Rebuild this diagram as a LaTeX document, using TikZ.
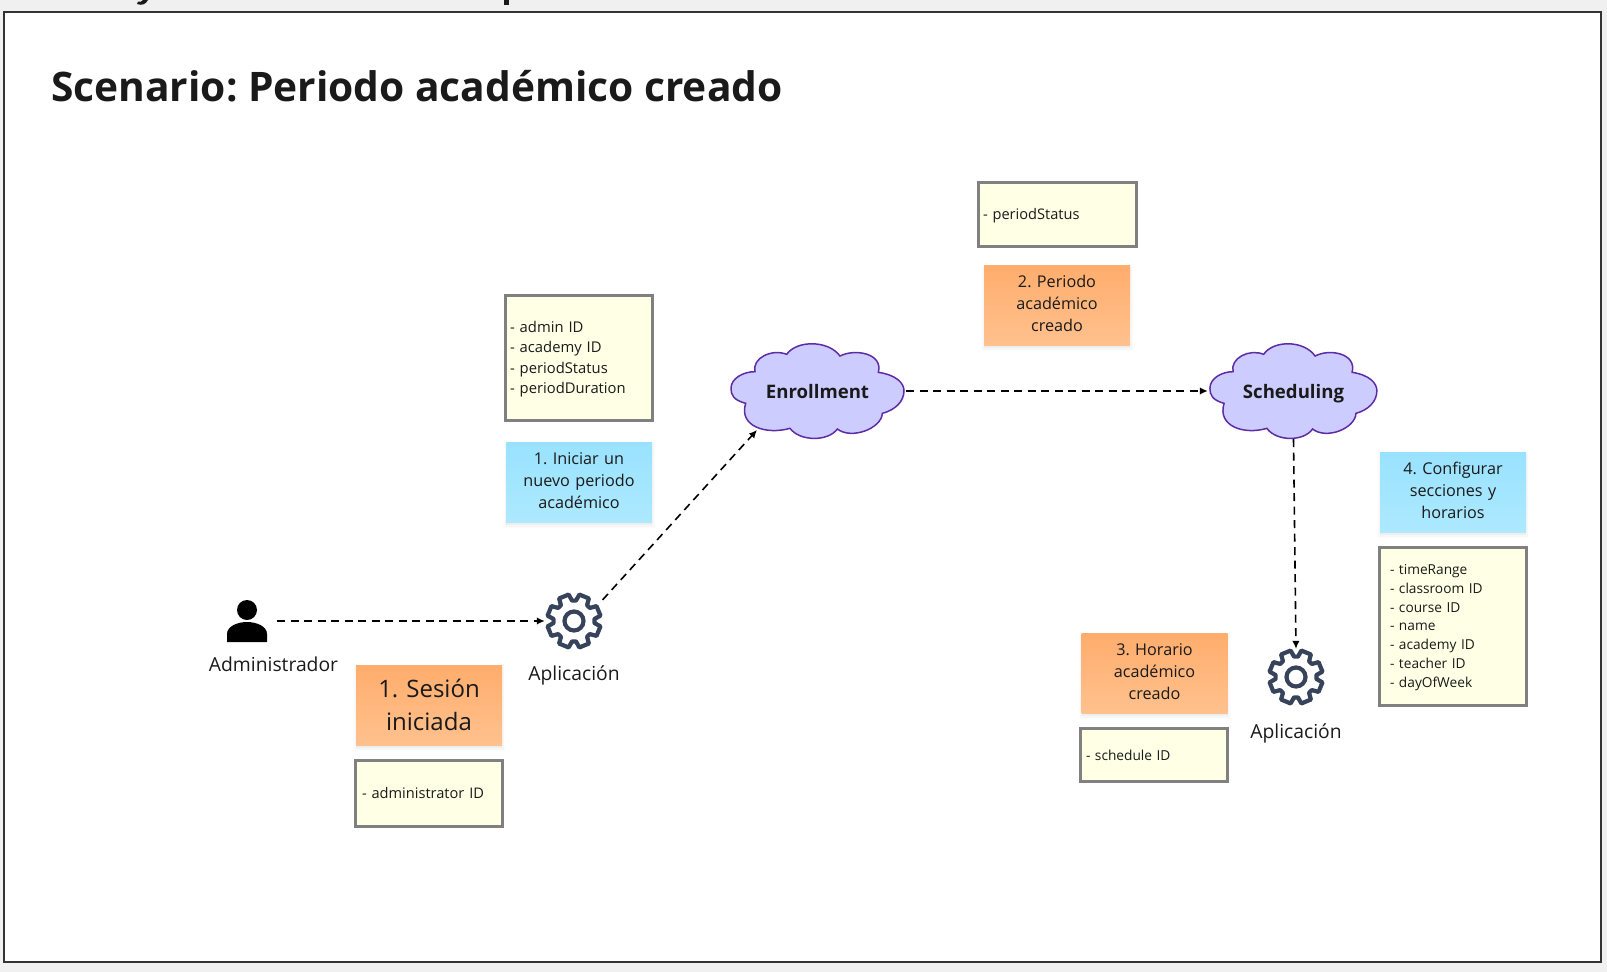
\documentclass[tikz,border=0pt]{standalone}
\usepackage{fontspec}
\setmainfont{Open Sans}
\frenchspacing
\usetikzlibrary{arrows.meta,shapes.geometric}
\definecolor{bgc}{HTML}{F0F0F0}
\definecolor{ink}{HTML}{1A1A1A}
\definecolor{framec}{HTML}{333333}
\definecolor{yel}{HTML}{FFFFE6}
\definecolor{graybd}{HTML}{808080}
\definecolor{orA}{HTML}{FFAD6C}
\definecolor{orB}{HTML}{FFC18E}
\definecolor{blA}{HTML}{99E2FF}
\definecolor{blB}{HTML}{ADE9FF}
\definecolor{cloudf}{HTML}{CCCCFF}
\definecolor{cloudd}{HTML}{5E2CA5}
\definecolor{gearc}{HTML}{36435A}
\tikzset{
  x=1pt,y=-1pt,
  every node/.style={text=ink},
  softshadow/.style={
    preaction={fill=black,opacity=.012,draw=black,line width=6pt,transform canvas={yshift=-3pt}},
    preaction={fill=black,opacity=.018,draw=black,line width=3pt,transform canvas={yshift=-3pt}},
    preaction={fill=black,opacity=.025,transform canvas={yshift=-2pt}}},
  sticky/.style={rectangle,softshadow,minimum width=146pt,minimum height=80pt,inner sep=2pt,
    align=center,text width=136pt,font=\fontsize{16.2}{21.8}\selectfont},
  raisetext/.style={execute at end node={\par\kern 3pt}},
  lowertext/.style={execute at end node={\par\kern -2pt}},
  orangenote/.style={sticky,top color=orA,bottom color=orB,shading angle=0},
  bluenote/.style={sticky,top color=blA,bottom color=blB,shading angle=0},
  databox/.style={rectangle,draw=graybd,line width=3pt,fill=yel,inner ysep=2pt,align=left},
  cloudshape/.style={fill=cloudf,draw=cloudd,line width=1.5pt},
  cloudlabel/.style={rectangle,inner sep=0pt,text height=15pt,text depth=0pt,font=\fontsize{18.6}{24}\selectfont\bfseries},
  caption/.style={font=\fontsize{19.3}{24}\selectfont,inner sep=0pt},
  gearanchor/.style={circle,inner sep=0pt,minimum size=58pt},
  gearline/.style={draw=gearc,line width=4.2pt,line join=round},
  flow/.style={draw=black,line width=1.6pt,dash pattern=on 8pt off 5.5pt,-{Latex[length=8pt,width=7.5pt]}},
}
\newcommand{\cloudoutline}{
  (165,155) .. controls (155,115) and (215,85) .. (260,103)
  .. controls (290,60) and (385,60) .. (420,108)
  .. controls (465,85) and (550,100) .. (535,157)
  .. controls (590,165) and (612,190) .. (612,212)
  .. controls (612,245) and (585,270) .. (547,280)
  .. controls (545,325) and (455,360) .. (412,327)
  .. controls (385,365) and (300,365) .. (270,325)
  .. controls (200,345) and (115,320) .. (137,250)
  .. controls (100,240) and (93,225) .. (93,205)
  .. controls (93,175) and (130,155) .. (165,155) -- cycle}
\newcommand{\geardraw}[1]{%
  \begin{scope}[shift={(#1)}]
    \draw[gearline] (22.5-11:27)
      \foreach \a in {22.5,67.5,112.5,157.5,202.5,247.5,292.5,337.5}{
        -- (\a-11:27) -- (\a+11:27) -- (\a+17:20.5) -- (\a+28:20.5)
      } -- cycle;
    \draw[gearline] (0,0) circle[radius=9.5];
  \end{scope}}
\begin{document}
\begin{tikzpicture}
\useasboundingbox (0,0) rectangle (1607,972);
\fill[bgc] (0,0) rectangle (1607,972);
\fill[ink] (137,4) .. controls (142,6) and (146,4) .. (148,0) -- (143,0) .. controls (142,2) and (140,2) .. (138,1.5) -- cycle;
\fill[ink] (504,0) rectangle (509,5);
\draw[framec,fill=white,line width=2pt] (4,11.5) rectangle (1601,962);

\node[inner sep=0pt,anchor=base west,font=\fontsize{40.7}{46}\selectfont\bfseries] (title) at (51,101) {Scenario: Periodo académico creado};

% clouds
\begin{scope}[shift={(700,320)},xscale=1/3,yscale=1/3]
  \path[cloudshape] \cloudoutline;
\end{scope}
\begin{scope}[shift={(1180,320)},xscale=.3217,yscale=1/3]
  \path[cloudshape] \cloudoutline;
\end{scope}
\node[cloudlabel,minimum width=173pt,minimum height=95pt] (enr) at (817.5,391) {Enrollment};
\node[cloudlabel,minimum width=167pt,minimum height=96pt] (sch) at (1293.5,391) {Scheduling};
\coordinate (enrfoot) at (757,430);

% person
\fill[black] (247,610) circle[radius=10];
\fill[black] (227,642) -- (227,634) .. controls (227,626) and (238,622) .. (247,622)
  .. controls (256,622) and (267,626) .. (267,634) -- (267,642) -- cycle;
\node[rectangle,inner sep=0pt,minimum width=60pt,minimum height=42pt] (admin) at (247,621) {};
\node[caption] (admint) at (273.5,664) {Administrador};

% gears
\geardraw{574,621}
\node[gearanchor] (gearone) at (574,621) {};
\node[caption] (gearonet) at (574,675) {Aplicación};
\geardraw{1296,677}
\node[gearanchor,minimum size=56pt] (geartwo) at (1296,677) {};
\node[caption] (geartwot) at (1296,733) {Aplicación};

% notes
\node[orangenote,font=\fontsize{24}{32.5}\selectfont] (n1) at (429,705) {1. Sesión\\iniciada};
\node[bluenote,raisetext] (n2) at (579,482) {1. Iniciar un\\nuevo periodo\\académico};
\node[orangenote,raisetext] (n3) at (1057,305) {2. Periodo\\académico\\creado};
\node[orangenote,raisetext] (n4) at (1154.5,673) {3. Horario\\académico\\creado};
\node[bluenote,raisetext] (n5) at (1453,492) {4. Configurar\\secciones y\\horarios};

% data
\node[databox,minimum width=147pt,minimum height=66pt,text width=134pt,inner xsep=6.5pt,font=\fontsize{14.6}{20}\selectfont] (d1) at (429,793.5) {- administrator ID};
\node[databox,lowertext,minimum width=146.5pt,minimum height=124.5pt,text width=137.5pt,inner xsep=4.5pt,font=\fontsize{14.8}{20.5}\selectfont] (d2) at (578.75,358) {- admin ID\\- academy ID\\- periodStatus\\- periodDuration};
\node[databox,lowertext,minimum width=158pt,minimum height=64pt,text width=148pt,inner xsep=5pt,font=\fontsize{14.6}{20}\selectfont] (d3) at (1057,214.5) {- periodStatus};
\node[databox,minimum width=147pt,minimum height=53pt,text width=136pt,inner xsep=5.5pt,font=\fontsize{13.7}{20}\selectfont] (d4) at (1154,755) {- schedule ID};
\node[databox,lowertext,minimum width=147pt,minimum height=158pt,text width=126pt,inner xsep=10.5pt,font=\fontsize{13.7}{18.8}\selectfont] (d5) at (1453,626.5) {- timeRange\\- classroom ID\\- course ID\\- name\\- academy ID\\- teacher ID\\- dayOfWeek};

% connectors
\draw[flow] (admin.east) -- (gearone.west);
\draw[flow,shorten <=6.5pt] (gearone.34) -- (enrfoot);
\draw[flow,shorten <=2pt,shorten >=2pt] (enr.east) -- (sch.west);
\draw[flow] (sch.south) -- (geartwo.north);
\end{tikzpicture}
\end{document}
